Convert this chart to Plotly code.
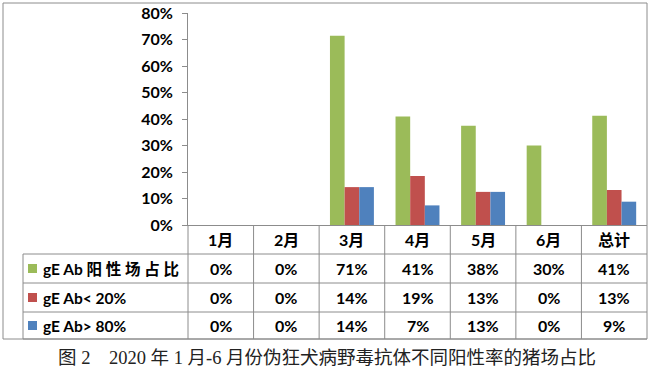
import plotly.graph_objects as go

# ---- data ----
categories = ["1月", "2月", "3月", "4月", "5月", "6月", "总计"]
series_names = ["gE Ab 阳 性 场 占 比", "gE Ab< 20%", "gE Ab> 80%"]
green_vals = [0, 0, 71.4, 40.9, 37.5, 30.0, 41.2]
red_vals = [0, 0, 14.3, 18.5, 12.5, 0, 13.2]
blue_vals = [0, 0, 14.3, 7.4, 12.5, 0, 8.8]
table_green = ["0%", "0%", "71%", "41%", "38%", "30%", "41%"]
table_red = ["0%", "0%", "14%", "19%", "13%", "0%", "13%"]
table_blue = ["0%", "0%", "14%", "7%", "13%", "0%", "9%"]
y_tick_vals = [0, 10, 20, 30, 40, 50, 60, 70, 80]
y_tick_text = ["0%", "10%", "20%", "30%", "40%", "50%", "60%", "70%", "80%"]
caption = "图 2　2020 年 1 月-6 月份伪狂犬病野毒抗体不同阳性率的猪场占比"

colors = ["#9BBB59", "#C0504D", "#4F81BD"]
W, H = 650, 371


def px(x):
    return x / W


def py(y):
    return 1 - y / H


FONT = "Lato, 'Noto Sans CJK SC', sans-serif"
GRID = "#8C8C8C"

fig = go.Figure()
for name, vals, c in zip(series_names, [green_vals, red_vals, blue_vals], colors):
    fig.add_trace(go.Bar(x=categories, y=vals, name=name, marker=dict(color=c, line=dict(width=0)),
                         showlegend=False))

shapes = []
# outer chart frame
shapes.append(dict(type="rect", xref="paper", yref="paper", x0=px(3), x1=px(647), y0=py(339), y1=py(3),
                   line=dict(color=GRID, width=1)))
# horizontal table lines
for yy in [254, 283, 312, 339]:
    shapes.append(dict(type="line", xref="paper", yref="paper", x0=px(23), x1=px(647), y0=py(yy), y1=py(yy),
                       line=dict(color=GRID, width=1)))
# left border of legend column
shapes.append(dict(type="line", xref="paper", yref="paper", x0=px(23), x1=px(23), y0=py(254), y1=py(339),
                   line=dict(color=GRID, width=1)))
# y-axis extension through table
shapes.append(dict(type="line", xref="paper", yref="paper", x0=px(188), x1=px(188), y0=py(225), y1=py(339),
                   line=dict(color=GRID, width=1)))
# column separators
for k in range(1, len(categories)):
    shapes.append(dict(type="line", xref="x", yref="paper", x0=k - 0.5, x1=k - 0.5, y0=py(225), y1=py(339),
                       line=dict(color=GRID, width=1)))
# legend keys
row_centers = [268.5, 297.5, 325.5]
for c, yc in zip(colors, row_centers):
    shapes.append(dict(type="rect", xref="paper", yref="paper", x0=px(28), x1=px(37),
                       y0=py(yc + 4.5), y1=py(yc - 4.5), fillcolor=c, line=dict(width=0)))

annotations = []
# header row
for i, cat in enumerate(categories):
    annotations.append(dict(x=i, y=py(239.5), xref="x", yref="paper", text="<b>%s</b>" % cat,
                            showarrow=False, font=dict(family=FONT, size=16, color="black"),
                            xanchor="center", yanchor="middle"))
# series rows
for name, texts, yc in zip(series_names, [table_green, table_red, table_blue], row_centers):
    annotations.append(dict(x=px(41), y=py(yc), xref="paper", yref="paper", text="<b>%s</b>" % name,
                            showarrow=False, font=dict(family=FONT, size=15.5, color="black"),
                            xanchor="left", yanchor="middle"))
    for i, t in enumerate(texts):
        annotations.append(dict(x=i, y=py(yc), xref="x", yref="paper", text="<b>%s</b>" % t,
                                showarrow=False, font=dict(family=FONT, size=16, color="black"),
                                xanchor="center", yanchor="middle"))
# caption
annotations.append(dict(x=px(327), y=py(358), xref="paper", yref="paper", text=caption, showarrow=False,
                        font=dict(family="'Liberation Serif', 'Noto Sans CJK SC', serif", size=18.5, color="#222"),
                        xanchor="center", yanchor="middle"))

fig.update_layout(
    width=W, height=H,
    margin=dict(l=0, r=0, t=0, b=0, autoexpand=False),
    paper_bgcolor="white", plot_bgcolor="white",
    barmode="group", bargap=0.33, bargroupgap=0,
    xaxis=dict(domain=[px(188), px(647)], range=[-0.5, 6.5], showticklabels=False, ticks="",
               showline=True, linecolor=GRID, linewidth=1, showgrid=False, zeroline=False, fixedrange=True,
               automargin=False),
    yaxis=dict(domain=[py(225), py(13)], range=[0, 80], tickvals=y_tick_vals, ticktext=y_tick_text,
               ticks="outside", ticklen=5, tickcolor=GRID, showline=True, linecolor=GRID, linewidth=1,
               showgrid=False, zeroline=False, ticklabelstandoff=6, automargin=False,
               tickfont=dict(family=FONT, size=16, color="black", weight="bold")),
    shapes=shapes,
    annotations=annotations,
)

fig.write_html("out.html", config={"displayModeBar": False},
               post_script="document.body.style.margin='0';document.body.style.overflow='hidden';")
